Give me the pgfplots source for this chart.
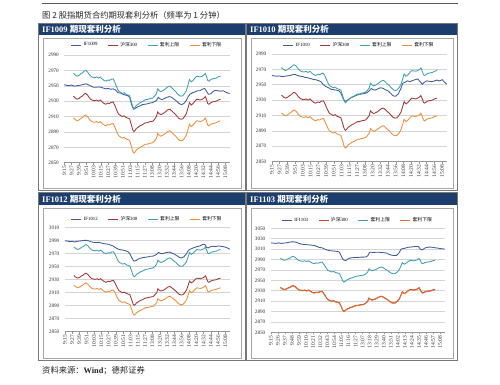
\documentclass[border=0pt]{standalone}
\usepackage{pgfplots}
\pgfplotsset{compat=1.18}
\usepackage{pgfplotstable}
\usepackage{fontspec}
\setmainfont{Liberation Serif}
\newfontfamily\cjk{Noto Sans CJK SC}

\definecolor{hdr}{RGB}{28,62,110}
\definecolor{cF}{RGB}{60,92,152}
\definecolor{cS}{RGB}{160,56,56}
\definecolor{cU}{RGB}{62,160,178}
\definecolor{cL}{RGB}{236,142,58}
\definecolor{cSd}{RGB}{192,72,40}
\definecolor{cLd}{RGB}{226,110,50}
\definecolor{frm}{RGB}{120,120,120}
\definecolor{gridc}{RGB}{212,212,212}
\definecolor{axc}{RGB}{150,150,150}

% spot (HS300) and arbitrage bounds for the four panels
\pgfplotstableread{
i s u1 l1 u2 l2 u3 l3 u4 l4
15 2936.5 2966.5 2908.5 2972.5 2913.5 2980.5 2921.5 2992.5 2935.7
18 2934 2964 2906 2970 2911 2978 2919 2990 2933.2
21 2932.5 2962.5 2904.5 2968.5 2909.5 2976.5 2917.5 2988.5 2931.7
24 2933.5 2963.5 2905.5 2969.5 2910.5 2977.5 2918.5 2989.5 2932.7
27 2935.5 2965.5 2907.5 2971.5 2912.5 2979.5 2920.5 2991.5 2934.7
30 2937 2967 2909 2973 2914 2981 2922 2993 2936.2
33 2939.5 2969.5 2911.5 2975.5 2916.5 2983.5 2924.5 2995.5 2938.7
35 2940 2970 2912 2976 2917 2984 2925 2996 2939.2
38 2938 2968 2910 2974 2915 2982 2923 2994 2937.2
41 2934.5 2964.5 2906.5 2970.5 2911.5 2978.5 2919.5 2990.5 2933.7
44 2932 2962 2904 2968 2909 2976 2917 2988 2931.2
47 2931 2961 2903 2967 2908 2975 2916 2987 2930.2
50 2930.5 2960.5 2902.5 2966.5 2907.5 2974.5 2915.5 2986.5 2929.7
53 2931.5 2961.5 2903.5 2967.5 2908.5 2975.5 2916.5 2987.5 2930.7
56 2930 2960 2902 2966 2907 2974 2915 2986 2929.2
59 2931.5 2961.5 2903.5 2967.5 2908.5 2975.5 2916.5 2987.5 2930.7
62 2929 2959 2901 2965 2906 2973 2914 2985 2928.2
65 2927 2957 2899 2963 2904 2971 2912 2983 2926.2
68 2926 2956 2898 2962 2903 2970 2911 2982 2925.2
71 2927.5 2957.5 2899.5 2963.5 2904.5 2971.5 2912.5 2983.5 2926.7
74 2927 2957 2899 2963 2904 2971 2912 2983 2926.2
77 2928.5 2958.5 2900.5 2964.5 2905.5 2972.5 2913.5 2984.5 2927.7
80 2929 2959 2901 2965 2906 2973 2914 2985 2928.2
83 2924 2954 2896 2960 2901 2968 2909 2980 2923.2
86 2918 2948 2890 2954 2895 2962 2903 2974 2917.2
89 2913 2943 2885 2949 2890 2957 2898 2969 2912.2
92 2911.5 2941.5 2883.5 2947.5 2888.5 2955.5 2896.5 2967.5 2910.7
95 2910 2940 2882 2946 2887 2954 2895 2966 2909.2
98 2911 2941 2883 2947 2888 2955 2896 2967 2910.2
101 2909 2939 2881 2945 2886 2953 2894 2965 2908.2
104 2908 2938 2880 2944 2885 2952 2893 2964 2907.2
107 2907 2937 2879 2943 2884 2951 2892 2963 2906.2
110 2899 2929 2871 2935 2876 2943 2884 2955 2898.2
112 2893 2923 2865 2929 2870 2937 2878 2949 2892.2
114 2890.5 2920.5 2862.5 2926.5 2867.5 2934.5 2875.5 2946.5 2889.7
116 2892 2922 2864 2928 2869 2936 2877 2948 2891.2
118 2894.5 2924.5 2866.5 2930.5 2871.5 2938.5 2879.5 2950.5 2893.7
121 2896 2926 2868 2932 2873 2940 2881 2952 2895.2
124 2898 2928 2870 2934 2875 2942 2883 2954 2897.2
127 2899 2929 2871 2935 2876 2943 2884 2955 2898.2
130 2900.5 2930.5 2872.5 2936.5 2877.5 2944.5 2885.5 2956.5 2899.7
133 2902 2932 2874 2938 2879 2946 2887 2958 2901.2
136 2902 2932 2874 2938 2879 2946 2887 2958 2901.2
139 2903 2933 2875 2939 2880 2947 2888 2959 2902.2
142 2903.5 2933.5 2875.5 2939.5 2880.5 2947.5 2888.5 2959.5 2902.7
145 2904 2934 2876 2940 2881 2948 2889 2960 2903.2
148 2906.5 2936.5 2878.5 2942.5 2883.5 2950.5 2891.5 2962.5 2905.7
151 2910 2940 2882 2946 2887 2954 2895 2966 2909.2
153 2916 2946 2888 2952 2893 2960 2901 2972 2915.2
155 2914 2944 2886 2950 2891 2958 2899 2970 2913.2
158 2912.5 2942.5 2884.5 2948.5 2889.5 2956.5 2897.5 2968.5 2911.7
161 2913.5 2943.5 2885.5 2949.5 2890.5 2957.5 2898.5 2969.5 2912.7
164 2915 2945 2887 2951 2892 2959 2900 2971 2914.2
167 2917 2947 2889 2953 2894 2961 2902 2973 2916.2
170 2919 2949 2891 2955 2896 2963 2904 2975 2918.2
173 2919.5 2949.5 2891.5 2955.5 2896.5 2963.5 2904.5 2975.5 2918.7
176 2917.5 2947.5 2889.5 2953.5 2894.5 2961.5 2902.5 2973.5 2916.7
179 2915 2945 2887 2951 2892 2959 2900 2971 2914.2
182 2913 2943 2885 2949 2890 2957 2898 2969 2912.2
185 2910 2940 2882 2946 2887 2954 2895 2966 2909.2
188 2907.5 2937.5 2879.5 2943.5 2884.5 2951.5 2892.5 2963.5 2906.7
191 2906.5 2936.5 2878.5 2942.5 2883.5 2950.5 2891.5 2962.5 2905.7
194 2907 2937 2879 2943 2884 2951 2892 2963 2906.2
197 2910 2940 2882 2946 2887 2954 2895 2966 2909.2
200 2914 2944 2886 2950 2891 2958 2899 2970 2913.2
203 2922 2952 2894 2958 2899 2966 2907 2978 2921.2
205 2928 2958 2900 2964 2905 2972 2913 2984 2927.2
208 2925 2955 2897 2961 2902 2969 2910 2981 2924.2
211 2927 2957 2899 2963 2904 2971 2912 2983 2926.2
214 2930 2960 2902 2966 2907 2974 2915 2986 2929.2
217 2932.5 2962.5 2904.5 2968.5 2909.5 2976.5 2917.5 2988.5 2931.7
220 2932 2962 2904 2968 2909 2976 2917 2988 2931.2
223 2931.5 2961.5 2903.5 2967.5 2908.5 2975.5 2916.5 2987.5 2930.7
226 2932.5 2962.5 2904.5 2968.5 2909.5 2976.5 2917.5 2988.5 2931.7
229 2934 2964 2906 2970 2911 2978 2919 2990 2933.2
231 2936 2966 2908 2972 2913 2980 2921 2992 2935.2
233 2932 2962 2904 2968 2909 2976 2917 2988 2931.2
235 2927 2957 2899 2963 2904 2971 2912 2983 2926.2
237 2926 2956 2898 2962 2903 2970 2911 2982 2925.2
240 2928 2958 2900 2964 2905 2972 2913 2984 2927.2
243 2929 2959 2901 2965 2906 2973 2914 2985 2928.2
246 2929.5 2959.5 2901.5 2965.5 2906.5 2973.5 2914.5 2985.5 2928.7
249 2930 2960 2902 2966 2907 2974 2915 2986 2929.2
252 2931.5 2961.5 2903.5 2967.5 2908.5 2975.5 2916.5 2987.5 2930.7
254 2932 2962 2904 2968 2909 2976 2917 2988 2931.2
256 2932.5 2962.5 2904.5 2968.5 2909.5 2976.5 2917.5 2988.5 2931.7
}\spot

% futures prices: IF1009, IF1010, IF1012, IF1103
\pgfplotstableread{
i a b c d
0 2951.5 2962 2990 3022
4 2950.5 2961.5 2989.5 3021.5
8 2950 2961 2988.5 3021
12 2951 2961.5 2989 3022
16 2949.5 2960.5 2988 3021
20 2950 2961 2989 3021.5
24 2950.5 2961.5 2989.5 3022
28 2951 2962 2990 3023
32 2952 2963 2990.5 3024
36 2952.5 2963.5 2990.5 3024
40 2951 2962 2989.5 3023
44 2949.5 2961 2988 3021
48 2948 2960.5 2987.5 3019.5
52 2948 2959.5 2987 3019
56 2948.5 2959 2987.5 3018.5
60 2948 2958 2986.5 3018
64 2947 2957 2985.5 3017.5
68 2946 2956.5 2985 3017
72 2946.5 2955.5 2984.5 3015
76 2945.5 2954 2983 3013
80 2946 2950 2981.5 3012.5
84 2944.5 2947.5 2979 3010
88 2941 2946 2977 3008
92 2940.5 2944 2976 3007
96 2939 2943.5 2975.5 3006.5
100 2938 2943 2974.5 3006
104 2937 2942 2973 3005.5
107 2935.5 2939 2970 3004
110 2926 2933 2964 2996
112 2922 2930 2960.5 2991
114 2919.5 2928.5 2958.5 2989
117 2921 2929.5 2959.5 2988
120 2922.5 2931.5 2961.5 2991
124 2924 2933.5 2963 2993
128 2925.5 2935 2964 2993.5
132 2926 2936.5 2964.5 2994
136 2926.5 2937.5 2965 2994
140 2927.5 2938 2966 2994.5
144 2928 2938.5 2966 2994.5
148 2929.5 2940 2967.5 2995
151 2931 2942 2969 2997
154 2935 2945 2972 3004
157 2933 2943.5 2970.5 3004
160 2932 2943 2970 3003.5
164 2933.5 2944.5 2971 3004
168 2935 2946 2972 3004
172 2936 2945.5 2972.5 3003.5
176 2935 2943.5 2971 3003
180 2932.5 2942 2969.5 3002.5
184 2930 2939 2967 3000
188 2927 2935.5 2964.5 2998.5
192 2925.5 2935 2963.5 2997.5
196 2927 2938 2965.5 2998
200 2931 2945 2970 3003
203 2936 2952 2975 3010
206 2939 2953 2977 3011
210 2941 2955 2978.5 3012
214 2942 2954 2980 3013.5
218 2943.5 2955.5 2981 3014
222 2943.5 2956.5 2982 3014.5
226 2945.5 2957.5 2984 3015
230 2946.5 2954 2984.5 3015
233 2943 2950.5 2979.5 3010
236 2939 2953 2979 3008.5
240 2939.5 2955 2981 3012
244 2943 2954.5 2981.5 3013.5
248 2944 2954 2981 3014
252 2943.5 2955 2982 3013.5
256 2943 2956 2981.5 3012.5
260 2943.5 2955 2981 3012
264 2942 2956.5 2980 3011
268 2940.5 2953 2978.5 3010.5
271 2940 2951 2977 3010
}\fut

\pgfplotsset{
  panel/.style={
    scale only axis,
    xmin=-0.5, xmax=271.5,
    axis x line*=bottom, axis y line*=left,
    x axis line style={draw=axc, line width=0.5pt, -},
    y axis line style={draw=none},
    ytick style={draw=none},
    xtick style={draw=axc, line width=0.4pt},
    tick align=outside, major tick length=2pt,
    ymajorgrids, grid style={draw=gridc, line width=0.45pt},
    xticklabel style={rotate=90, anchor=east, font=\fontsize{5.5}{5.5}\selectfont, inner sep=1pt, text=black!80},
    yticklabel style={font=\fontsize{5.2}{5.2}\selectfont, inner sep=1pt, xshift=-2pt, text=black!80},
    /pgf/number format/assume math mode=true,
    /pgf/number format/1000 sep={},
    legend columns=4,
    legend style={draw=none, fill=none, font=\fontsize{4.8}{5}\selectfont,
      anchor=center, inner sep=0pt,
      /tikz/every even column/.append style={column sep=8pt}},
    legend cell align=left,
    legend image code/.code={\draw[##1] (0pt,0pt) -- (10pt,0pt);},
    every axis plot/.append style={line width=0.85pt, mark=none},
    unbounded coords=jump,
  },
  t12/.style={xtick={0,12,...,264},
    xticklabels={9:15,9:27,9:39,9:51,10:03,10:15,10:27,10:39,10:51,11:03,11:15,11:27,13:08,13:20,13:32,13:44,13:56,14:08,14:20,14:32,14:44,14:56,15:08}},
  t11/.style={xtick={0,11,...,264},
    xticklabels={9:15,9:26,9:37,9:48,9:59,10:10,10:21,10:32,10:43,10:54,11:05,11:16,11:27,13:07,13:18,13:29,13:40,13:51,14:02,14:13,14:24,14:35,14:46,14:57,15:08}},
}

\begin{document}
\begin{tikzpicture}
\begin{scope}[x=1pt,y=-1pt]
  \path[use as bounding box, fill=white] (0,0) rectangle (500,384);
  \draw[line width=0.6pt, black!65] (42,3.5) -- (458,3.5);
  \node[anchor=west, inner sep=0pt, font=\cjk\fontsize{8.3}{9}\selectfont, text=black!85] at (42,15) {图 2 股指期货合约期现套利分析（频率为 1 分钟）};
  % header bars
  \fill[hdr] (38,23) rectangle (245,35);
  \fill[hdr] (246,23) rectangle (457,35);
  \fill[hdr] (38,192) rectangle (245,205);
  \fill[hdr] (246,192) rectangle (457,205);
  \node[anchor=west, inner sep=0pt, text=white, font=\fontsize{8.5}{9}\selectfont\bfseries] at (42,29.3) {IF1009 {\cjk 期现套利分析}};
  \node[anchor=west, inner sep=0pt, text=white, font=\fontsize{8.5}{9}\selectfont\bfseries] at (250,29.3) {IF1010 {\cjk 期现套利分析}};
  \node[anchor=west, inner sep=0pt, text=white, font=\fontsize{8.5}{9}\selectfont\bfseries] at (42,198.8) {IF1012 {\cjk 期现套利分析}};
  \node[anchor=west, inner sep=0pt, text=white, font=\fontsize{8.5}{9}\selectfont\bfseries] at (250,198.8) {IF1103 {\cjk 期现套利分析}};
  % cell frames
  \draw[frm, line width=0.5pt] (38,23) rectangle (245,190);
  \draw[frm, line width=0.5pt] (246,23) rectangle (457,190);
  \draw[frm, line width=0.5pt] (38,192) rectangle (245,360);
  \draw[frm, line width=0.5pt] (246,192) rectangle (457,360);
  % inner chart boxes
  \draw[black!35, line width=0.6pt] (43,38) rectangle (241,188);
  \draw[black!35, line width=0.6pt] (251,38) rectangle (453,188);
  \draw[black!35, line width=0.6pt] (43,208) rectangle (241,358);
  \draw[black!35, line width=0.6pt] (251,208) rectangle (453,358);
  \node[anchor=west, inner sep=0pt, font=\cjk\fontsize{8.3}{9}\selectfont, text=black!85] at (42,371) {资料来源：{\rmfamily\bfseries Wind}；德邦证券};
\end{scope}

% ---------- IF1009 ----------
\begin{axis}[panel, t12, at={(64pt,-162.7pt)}, anchor=south west,
  width=166pt, height=107.7pt, ymin=2850, ymax=2990, ytick={2850,2870,...,2990},
  legend style={at={(0.5,1.093)}}]
  \addplot[cF] table[x=i,y=a]{\fut};
  \addplot[cS] table[x=i,y=s]{\spot};
  \addplot[cU] table[x=i,y=u1]{\spot};
  \addplot[cL] table[x=i,y=l1]{\spot};
  \legend{IF1009,{\cjk 沪深}300,{\cjk 套利上限},{\cjk 套利下限}}
\end{axis}

% ---------- IF1010 ----------
\begin{axis}[panel, t12, at={(271.5pt,-161.5pt)}, anchor=south west,
  width=175.5pt, height=107.5pt, ymin=2850, ymax=2990, ytick={2850,2870,...,2990},
  legend style={at={(0.5,1.08)}}]
  \addplot[cF] table[x=i,y=b]{\fut};
  \addplot[cS] table[x=i,y=s]{\spot};
  \addplot[cU] table[x=i,y=u2]{\spot};
  \addplot[cL] table[x=i,y=l2]{\spot};
  \legend{IF1010,{\cjk 沪深}300,{\cjk 套利上限},{\cjk 套利下限}}
\end{axis}

% ---------- IF1012 ----------
\begin{axis}[panel, t12, at={(64.5pt,-331.7pt)}, anchor=south west,
  width=165.5pt, height=104pt, ymin=2850, ymax=3010, ytick={2850,2870,...,3010},
  legend style={at={(0.5,1.08)}}]
  \addplot[cF] table[x=i,y=c]{\fut};
  \addplot[cS] table[x=i,y=s]{\spot};
  \addplot[cU] table[x=i,y=u3]{\spot};
  \addplot[cL] table[x=i,y=l3]{\spot};
  \legend{IF1012,{\cjk 沪深}300,{\cjk 套利上限},{\cjk 套利下限}}
\end{axis}

% ---------- IF1103 ----------
\begin{axis}[panel, t11, at={(270.5pt,-332.3pt)}, anchor=south west,
  width=174.5pt, height=104pt, ymin=2850, ymax=3050, ytick={2850,2870,...,3050},
  legend style={at={(0.5,1.075)}}]
  \addplot[cF] table[x=i,y=d]{\fut};
  \addplot[cSd] table[x=i,y=s]{\spot};
  \addplot[cU] table[x=i,y=u4]{\spot};
  \addplot[cLd] table[x=i,y=l4]{\spot};
  \legend{IF1103,{\cjk 沪深}300,{\cjk 套利上限},{\cjk 套利下限}}
\end{axis}
\end{tikzpicture}
\end{document}
